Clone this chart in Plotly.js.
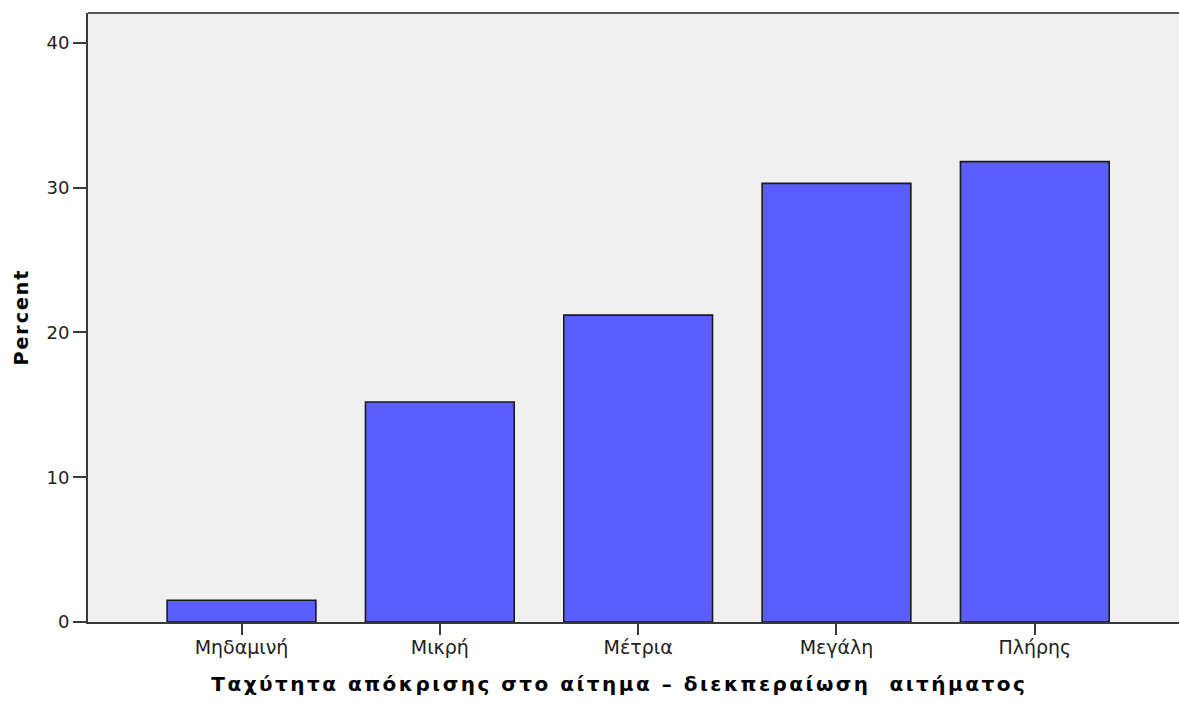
<!DOCTYPE html>
<html>
<head>
<meta charset="utf-8">
<script src="https://cdn.plot.ly/plotly-3.0.1.min.js"></script>
<style>
  html, body { margin: 0; padding: 0; background: #fff; }
  #chart { width: 1179px; height: 703px; }
</style>
</head>
<body>
<div id="chart"></div>
<script>
const categories = ["Μηδαμινή", "Μικρή", "Μέτρια", "Μεγάλη", "Πλήρης"];
const percents = [1.5, 15.2, 21.2, 30.3, 31.8];
const yTicks = [0, 10, 20, 30, 40];
const xTitle = "Ταχύτητα απόκρισης στο αίτημα – διεκπεραίωση  αιτήματος";
const yTitle = "Percent";

const FONT = "DejaVu Sans, Verdana, sans-serif";

const trace = {
  type: "bar",
  x: categories,
  y: percents,
  marker: { color: "#5b5eff", line: { color: "#1a1a1a", width: 1.6 } },
  hoverinfo: "x+y"
};

const layout = {
  width: 1179,
  height: 703,
  margin: { l: 88, r: 0, t: 13, b: 81, pad: 0 },
  paper_bgcolor: "#ffffff",
  plot_bgcolor: "#f0f0f0",
  bargap: 0.25,
  showlegend: false,
  font: { family: FONT, color: "#222" },
  xaxis: {
    type: "category",
    range: [-0.774, 4.727],
    showgrid: false,
    zeroline: false,
    showline: true,
    linecolor: "#3a3a3a",
    linewidth: 2,
    ticks: "outside",
    ticklen: 11,
    tickwidth: 2,
    tickcolor: "#3a3a3a",
    ticklabelstandoff: -4,
    tickfont: { size: 19, family: FONT, color: "#222" }
  },
  yaxis: {
    range: [0, 42.07],
    tickvals: yTicks,
    ticktext: yTicks.map(String),
    showgrid: false,
    zeroline: false,
    showline: true,
    linecolor: "#3a3a3a",
    linewidth: 2,
    ticks: "outside",
    ticklen: 13,
    tickwidth: 2,
    tickcolor: "#3a3a3a",
    tickfont: { size: 18, family: FONT, color: "#222" }
  },
  shapes: [
    { type: "line", xref: "paper", yref: "paper", x0: 0, x1: 1, y0: 1, y1: 1,
      line: { color: "#555", width: 2 } }
  ],
  annotations: [
    { text: xTitle, xref: "paper", yref: "paper", x: 0.487, y: -0.1018,
      xanchor: "center", yanchor: "middle", showarrow: false,
      font: { size: 20, family: FONT, color: "#000", weight: "bold" } },
    { text: yTitle, xref: "paper", yref: "paper", x: -0.0623, y: 0.5, textangle: -90,
      xanchor: "center", yanchor: "middle", showarrow: false,
      font: { size: 19, family: FONT, color: "#000", weight: "bold" } }
  ]
};

Plotly.newPlot("chart", [trace], layout, { displayModeBar: false }).then(function () {
  const texts = document.querySelectorAll(".annotation-text");
  texts.forEach(function (t) {
    t.style.letterSpacing = (t.textContent === yTitle) ? "2px" : "2.5px";
  });
});
</script>
</body>
</html>
